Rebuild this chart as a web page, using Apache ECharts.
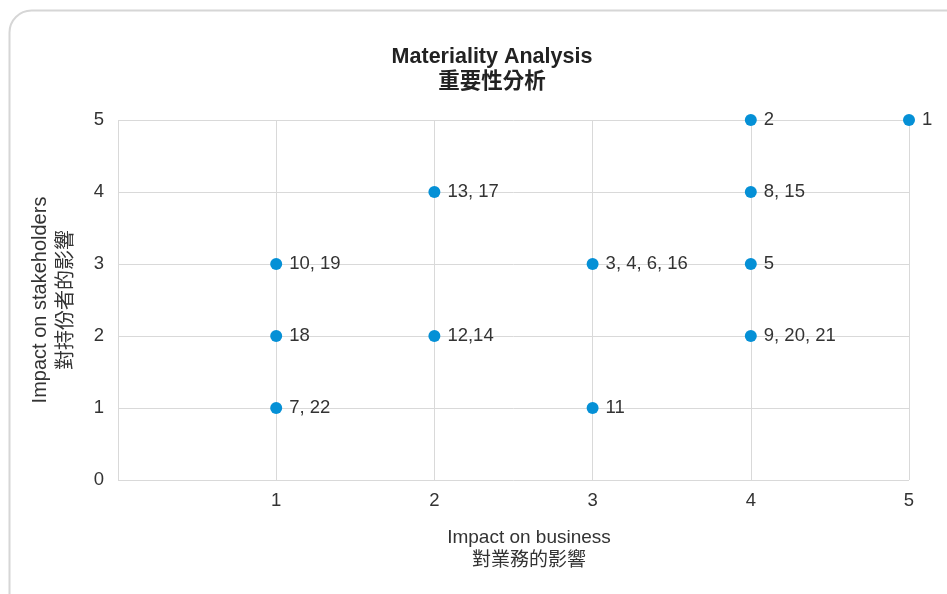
<!DOCTYPE html>
<html><head><meta charset="utf-8">
<script src="https://cdn.jsdelivr.net/npm/echarts@6/dist/echarts.min.js"></script>
<style>html,body{margin:0;padding:0;background:#fff;}#c{width:947px;height:594px;}</style>
</head><body><div id="c"></div>
<script>
const xValues = [5, 4, 4, 2, 1, 3, 4, 1, 2, 4, 1, 3];
const yValues = [5, 5, 4, 4, 3, 3, 3, 2, 2, 2, 1, 1];
const pointLabels = ['1', '2', '8, 15', '13, 17', '10, 19', '3, 4, 6, 16', '5', '18', '12,14', '9, 20, 21', '7, 22', '11'];
const xTicks = ['', '1', '2', '3', '4', '5'];
const yTicks = ['0', '1', '2', '3', '4', '5'];

const FONT = '"Liberation Sans", Arial, "Noto Sans CJK TC", sans-serif';
const data = xValues.map((x, i) => ({ value: [x, yValues[i]], name: pointLabels[i] }));

const chart = echarts.init(document.getElementById('c'));
chart.setOption({
  backgroundColor: '#fff',
  animation: false,
  title: {
    text: 'Materiality Analysis\n重要性分析',
    left: 487, top: 40, textAlign: 'center',
    textStyle: { fontFamily: FONT, fontSize: 21.5, fontWeight: 'bold', color: '#222', lineHeight: 25 }
  },
  graphic: [
    { type: 'rect', left: 7, top: 8, z: -10, silent: true,
      shape: { width: 980, height: 620, r: 22 },
      style: { fill: 'none', stroke: '#d6d6d6', lineWidth: 2 } },
    { type: 'text', x: 529, y: 526, z: 10, silent: true,
      style: { text: 'Impact on business\n對業務的影響', align: 'center', verticalAlign: 'top',
        font: '19px ' + FONT, fill: '#333', lineHeight: 23 } }
  ],
  grid: { left: 118, right: 38, top: 120, bottom: 114 },
  xAxis: {
    type: 'value', min: 0, max: 5, interval: 1,
    axisLine: { show: false }, axisTick: { show: false },
    axisLabel: { margin: 12, fontFamily: FONT, fontSize: 18.5, color: '#333',
      formatter: v => xTicks[v] },
    splitLine: { show: true, lineStyle: { color: '#d9d9d9', width: 1 } }
  },
  yAxis: {
    type: 'value', min: 0, max: 5, interval: 1,
    name: 'Impact on stakeholders\n對持份者的影響',
    nameLocation: 'middle', nameGap: 39, nameRotate: 90,
    nameTextStyle: { fontFamily: FONT, fontSize: 20, color: '#333', lineHeight: 26 },
    axisLine: { show: false }, axisTick: { show: false },
    axisLabel: { margin: 14, fontFamily: FONT, fontSize: 18.5, color: '#333',
      formatter: v => yTicks[v] },
    splitLine: { show: true, lineStyle: { color: '#d9d9d9', width: 1 } }
  },
  series: [{
    type: 'scatter', symbol: 'circle', symbolSize: 12,
    itemStyle: { color: '#0590d6', opacity: 1 },
    label: { show: true, position: 'right', distance: 7, formatter: p => p.name,
      fontFamily: FONT, fontSize: 18.5, color: '#333', opacity: 1 },
    data: data
  }]
});
</script></body></html>
